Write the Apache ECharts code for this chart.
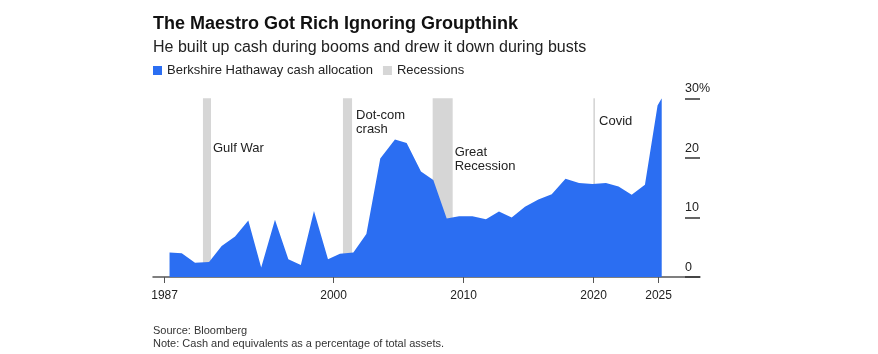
<!DOCTYPE html>
<html>
<head>
<meta charset="utf-8">
<script src="https://cdn.jsdelivr.net/npm/echarts@6/dist/echarts.min.js"></script>
<style>html,body{margin:0;padding:0;background:#fff;}#chart{width:878px;height:354px;}</style>
</head>
<body>
<div id="chart"></div>
<script>
// ---- data ----
const years = [1987.38, 1988.32, 1989.34, 1990.42, 1991.39, 1992.42, 1993.44, 1994.43, 1995.49, 1996.52,
  1997.48, 1998.49, 1999.57, 2000.49, 2001.52, 2002.52, 2003.59, 2004.72, 2005.62, 2006.72,
  2007.67, 2008.70, 2009.65, 2010.68, 2011.72, 2012.72, 2013.70, 2014.72, 2015.75, 2016.78,
  2017.84, 2018.88, 2019.92, 2020.95, 2021.92, 2022.93, 2023.95, 2024.92, 2025.24];
const cashPct = [4.1, 4.0, 2.4, 2.5, 5.2, 6.8, 9.5, 1.6, 9.6, 3.0,
  2.0, 11.1, 3.0, 3.9, 4.1, 7.2, 19.9, 23.1, 22.5, 17.7,
  16.3, 9.8, 10.2, 10.2, 9.7, 11.0, 10.0, 11.8, 13.0, 13.9,
  16.5, 15.8, 15.6, 15.8, 15.2, 13.8, 15.5, 28.8, 30.0];
const recessionNames = ['Gulf War', 'Dot-com\ncrash', 'Great\nRecession', 'Covid'];
const recessionStart = [1989.95, 2000.72, 2007.62, 2019.98];
const recessionEnd = [1990.57, 2001.42, 2009.16, 2020.11];
const xTickValues = [1987, 2000, 2010, 2020, 2025];
const yTickValues = [0, 10, 20, 30];
const yTickLabels = ['0', '10', '20', '30%'];

// ---- styling (not data) ----
const FONT = "'Liberation Sans', Arial, Helvetica, sans-serif";
const labelDy = [43, 10, 47, 16];
const labelDx = [2, 4, 2, 4];

const chart = echarts.init(document.getElementById('chart'), null, {renderer: 'canvas'});
const markData = recessionNames.map((n, i) => [
  {xAxis: recessionStart[i], name: n,
   label: {position: ['100%', labelDy[i]], offset: [labelDx[i], 0]}},
  {xAxis: recessionEnd[i]}
]);

chart.setOption({
  backgroundColor: '#ffffff',
  animation: false,
  textStyle: {fontFamily: FONT},
  title: [
    {text: 'The Maestro Got Rich Ignoring Groupthink', left: 153, top: 15, padding: 0,
     textStyle: {fontFamily: FONT, fontSize: 18, fontWeight: 'bold', color: '#111'}},
    {text: 'He built up cash during booms and drew it down during busts', left: 153, top: 40, padding: 0,
     textStyle: {fontFamily: FONT, fontSize: 16, fontWeight: 'normal', color: '#222'}},
    {text: 'Source: Bloomberg\nNote: Cash and equivalents as a percentage of total assets.', left: 153, top: 324.5, padding: 0,
     textStyle: {fontFamily: FONT, fontSize: 11, fontWeight: 'normal', color: '#333', lineHeight: 13}}
  ],
  legend: {
    left: 153, top: 64, padding: 0, itemWidth: 9, itemHeight: 9, itemGap: 10, icon: 'rect',
    data: ['Berkshire Hathaway cash allocation', 'Recessions'],
    textStyle: {fontFamily: FONT, fontSize: 13, color: '#222', padding: [0, 0, 0, 0]}
  },
  grid: {left: 153, right: 178, top: 98.3, bottom: 77, containLabel: false},
  xAxis: {
    type: 'value', min: 1986.108, max: 2028.185,
    axisLine: {show: true, lineStyle: {color: '#555', width: 1.5}},
    axisTick: {show: true, length: 6, lineStyle: {color: '#555', width: 1}, customValues: xTickValues},
    axisLabel: {customValues: xTickValues, margin: 13, fontSize: 12, color: '#222', fontFamily: FONT,
      formatter: v => String(v)},
    splitLine: {show: false}
  },
  yAxis: {
    type: 'value', position: 'right', min: 0, max: 30, interval: 10,
    axisLine: {show: false},
    axisTick: {show: true, inside: true, length: 15, lineStyle: {color: '#333', width: 1.5}},
    axisLabel: {inside: true, margin: 15, align: 'left', verticalAlign: 'bottom', padding: [0, 0, 3, 0],
      fontSize: 12.5, color: '#222', fontFamily: FONT,
      formatter: v => yTickLabels[yTickValues.indexOf(v)] ?? ''},
    splitLine: {show: false}
  },
  series: [
    {
      name: 'Recessions', type: 'line', data: [], z: 1,
      itemStyle: {color: '#d6d6d6'}, lineStyle: {color: '#d6d6d6'},
      markArea: {
        silent: true,
        itemStyle: {color: '#d6d6d6'},
        label: {show: true, color: '#222', fontSize: 13, lineHeight: 14, fontFamily: FONT,
          align: 'left', verticalAlign: 'top'},
        data: markData
      }
    },
    {
      name: 'Berkshire Hathaway cash allocation', type: 'line', z: 3,
      data: years.map((y, i) => [y, cashPct[i]]),
      symbol: 'none', smooth: false,
      itemStyle: {color: '#2b6ef2'},
      lineStyle: {width: 0, color: '#2b6ef2'},
      areaStyle: {color: '#2b6ef2', opacity: 1}
    }
  ]
});
</script>
</body>
</html>
